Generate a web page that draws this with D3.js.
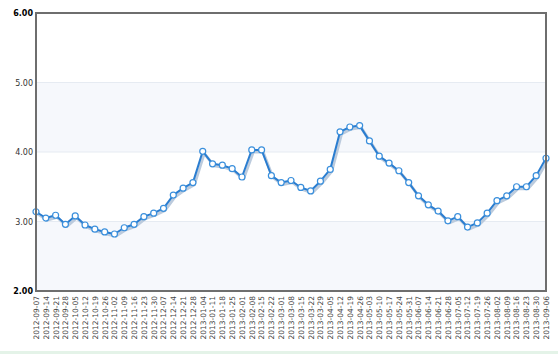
<!DOCTYPE html>
<html>
<head>
<meta charset="utf-8">
<script src="https://cdn.jsdelivr.net/npm/d3@7/dist/d3.min.js"></script>
<style>
  body { margin: 0; background: #fff; }
  #chart { width: 558px; height: 354px; }
  text { font-family: "DejaVu Sans", Verdana, sans-serif; }
</style>
</head>
<body>
<div id="chart"></div>
<script>
const dates = [
  "2012-09-07","2012-09-14","2012-09-21","2012-09-28","2012-10-05","2012-10-12","2012-10-19","2012-10-26",
  "2012-11-02","2012-11-09","2012-11-16","2012-11-23","2012-11-30","2012-12-07","2012-12-14","2012-12-21",
  "2012-12-28","2013-01-04","2013-01-11","2013-01-18","2013-01-25","2013-02-01","2013-02-08","2013-02-15",
  "2013-02-22","2013-03-01","2013-03-08","2013-03-15","2013-03-22","2013-03-29","2013-04-05","2013-04-12",
  "2013-04-19","2013-04-26","2013-05-03","2013-05-10","2013-05-17","2013-05-24","2013-05-31","2013-06-07",
  "2013-06-14","2013-06-21","2013-06-28","2013-07-05","2013-07-12","2013-07-19","2013-07-26","2013-08-02",
  "2013-08-09","2013-08-16","2013-08-23","2013-08-30","2013-09-06"
];
const values = [
  3.14, 3.05, 3.09, 2.96, 3.08, 2.95, 2.89, 2.85,
  2.82, 2.91, 2.96, 3.07, 3.12, 3.19, 3.38, 3.48,
  3.56, 4.01, 3.83, 3.81, 3.76, 3.64, 4.03, 4.03,
  3.66, 3.56, 3.59, 3.49, 3.44, 3.58, 3.75, 4.29,
  4.36, 4.38, 4.16, 3.94, 3.84, 3.73, 3.56, 3.37,
  3.24, 3.15, 3.01, 3.07, 2.92, 2.98, 3.12, 3.30,
  3.37, 3.50, 3.50, 3.66, 3.91
];
const yTicks = [2, 3, 4, 5, 6];
const bands = [[2, 3], [4, 5]];

const data = dates.map((d, i) => ({ date: d, value: values[i] }));

const svg = d3.select("#chart").append("svg").attr("width", 558).attr("height", 354);
const margin = { top: 13, right: 12, bottom: 63, left: 36 };
const width = 558 - margin.left - margin.right;
const height = 354 - margin.top - margin.bottom;
const g = svg.append("g").attr("transform", `translate(${margin.left},${margin.top})`);

const x = d3.scalePoint().domain(dates).range([0, width]);
const y = d3.scaleLinear().domain([2, 6]).range([height, 0]);

// alternating bands
g.selectAll(".band")
  .data(bands)
  .enter().append("rect")
  .attr("class", "band")
  .attr("x", 0)
  .attr("width", width)
  .attr("y", d => y(d[1]))
  .attr("height", d => y(d[0]) - y(d[1]))
  .attr("fill", "#f6f8fc");

// grid lines
g.selectAll(".grid")
  .data(yTicks.slice(1, -1))
  .enter().append("line")
  .attr("x1", 0).attr("x2", width)
  .attr("y1", d => y(d)).attr("y2", d => y(d))
  .attr("stroke", "#e6ebf2")
  .attr("stroke-width", 1);

const line = d3.line().x(d => x(d.date)).y(d => y(d.value));

// shadow
g.append("path")
  .datum(data)
  .attr("d", line)
  .attr("transform", "translate(1.5,2)")
  .attr("fill", "none")
  .attr("stroke", "#bccbdd")
  .attr("stroke-width", 3)
  .attr("stroke-linejoin", "round");

g.append("path")
  .datum(data)
  .attr("d", line)
  .attr("fill", "none")
  .attr("stroke", "#2a7dd0")
  .attr("stroke-width", 2)
  .attr("stroke-linejoin", "round");

g.selectAll(".dot")
  .data(data)
  .enter().append("circle")
  .attr("class", "dot")
  .attr("cx", d => x(d.date))
  .attr("cy", d => y(d.value))
  .attr("r", 3)
  .attr("fill", "#fff")
  .attr("stroke", "#3a8fdc")
  .attr("stroke-width", 1.2);

// frame
g.append("rect")
  .attr("x", 0).attr("y", 0)
  .attr("width", width).attr("height", height)
  .attr("fill", "none")
  .attr("stroke", "#6e6e6e")
  .attr("stroke-width", 2);

// y axis
const yAxis = g.append("g")
  .call(d3.axisLeft(y).tickValues(yTicks).tickFormat(d3.format(".2f")).tickSize(0).tickPadding(3));
yAxis.select(".domain").remove();
yAxis.selectAll("text")
  .style("font-size", "8px")
  .style("font-family", "DejaVu Sans, Verdana, sans-serif")
  .attr("fill", "#333")
  .style("font-weight", d => (d === 2 || d === 6) ? "bold" : "normal")
  .attr("fill", d => (d === 2 || d === 6) ? "#000" : "#333");

// x axis
const xAxis = g.append("g")
  .attr("transform", `translate(0,${height})`)
  .call(d3.axisBottom(x).tickSize(0).tickPadding(5));
xAxis.select(".domain").remove();
xAxis.selectAll("text")
  .style("font-size", "7.5px")
  .style("font-family", "DejaVu Sans, Verdana, sans-serif")
  .attr("fill", "#444")
  .attr("transform", "rotate(-90)")
  .attr("x", -5)
  .attr("y", 0)
  .attr("dy", "0.32em")
  .style("text-anchor", "end");

// bottom strip
svg.append("rect")
  .attr("x", 0).attr("y", 351)
  .attr("width", 558).attr("height", 3)
  .attr("fill", "#e4f3e8");
</script>
</body>
</html>
